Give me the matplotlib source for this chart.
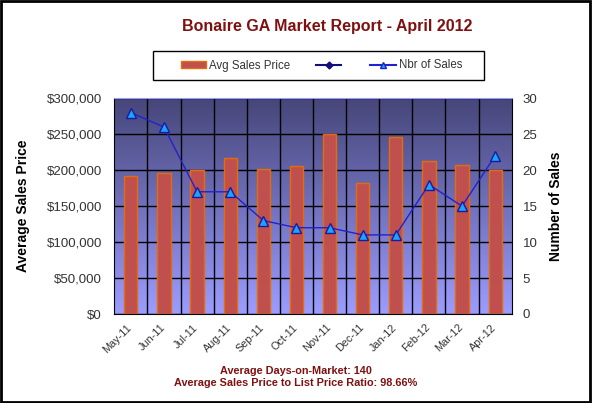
import numpy as np
import matplotlib
matplotlib.use("Agg")
import matplotlib.pyplot as plt
from matplotlib.colors import LinearSegmentedColormap
from matplotlib.lines import Line2D
from matplotlib.patches import Patch, Rectangle
from matplotlib.ticker import FuncFormatter
import matplotlib.transforms as mtrans

plt.rcParams["font.family"] = ["Liberation Sans", "DejaVu Sans"]

# data
months = ["May-11", "Jun-11", "Jul-11", "Aug-11", "Sep-11", "Oct-11",
          "Nov-11", "Dec-11", "Jan-12", "Feb-12", "Mar-12", "Apr-12"]
avg_price = [192000, 196000, 200000, 217000, 202000, 206000,
             250000, 182000, 246000, 213000, 207000, 200000]
nbr_sales = [28, 26, 17, 17, 13, 12, 12, 11, 11, 18, 15, 22]

title = "Bonaire GA Market Report - April 2012"
footer = ["Average Days-on-Market: 140",
          "Average Sales Price to List Price Ratio: 98.66%"]

DARK_RED = "#7f1010"
BAR = "#c0504d"
BAR_EDGE = "#e46c0a"
LINE = "#2222cc"
MARK = "#1aa3ff"

fig = plt.figure(figsize=(5.92, 4.03), dpi=100)
W, H = 592, 403
ax = fig.add_axes([114.3 / W, 1 - 314 / H, (511.7 - 114.3) / W, (314 - 98.3) / H])

x = np.arange(len(months))

# gradient background of the plot area (dark at top, light at bottom)
grad = LinearSegmentedColormap.from_list("bg", ["#46467a", "#9c9cff"])
ax.imshow(np.linspace(0, 1, 256).reshape(-1, 1), cmap=grad, aspect="auto",
          origin="upper", extent=[-0.5, len(months) - 0.5, 0, 300000], zorder=0)

ax.bar(x, avg_price, width=0.4, color=BAR, edgecolor=BAR_EDGE, linewidth=1, zorder=2)
ax.set_xlim(-0.5, len(months) - 0.5)
ax.set_ylim(0, 300000)
ax.set_yticks(np.arange(0, 300001, 50000))
ax.yaxis.set_major_formatter(FuncFormatter(lambda v, p: "${:,.0f}".format(v)))
ax.set_xticks(x)
ax.set_xticklabels(months, rotation=45, ha="right", fontsize=7.8, color="#333333")
ax.set_xticks(x[:-1] + 0.5, minor=True)
ax.grid(True, axis="y", which="major", color="black", linewidth=1, zorder=1)
ax.grid(True, axis="x", which="minor", color="black", linewidth=1, zorder=1)
ax.tick_params(axis="both", which="both", length=0)
ax.tick_params(axis="y", labelsize=9.5, pad=9, labelcolor="#333333")
ax.tick_params(axis="x", pad=6)
offset = mtrans.ScaledTranslation(3 / 100, 0, fig.dpi_scale_trans)
for lab in ax.get_xticklabels():
    lab.set_transform(lab.get_transform() + offset)
for s in ["left", "bottom", "right"]:
    ax.spines[s].set_color("black")
ax.spines["top"].set_color("#9c9cff")
ax.set_ylabel("Average Sales Price", fontsize=10, fontweight="bold", labelpad=12)

ax2 = ax.twinx()
ax2.plot(x, nbr_sales, color=LINE, linewidth=1, marker="^", markersize=7,
         markerfacecolor=MARK, markeredgecolor="#1a1aa0", markeredgewidth=1, zorder=3)
ax2.set_ylim(0, 30)
ax2.set_yticks(np.arange(0, 31, 5))
ax2.tick_params(axis="y", length=0, labelsize=9.5, pad=8, labelcolor="#333333")
for s in ax2.spines.values():
    s.set_visible(False)
ax2.set_ylabel("Number of Sales", fontsize=10, fontweight="bold", labelpad=8)

fig.text(0.553, 1 - 26 / H, title, ha="center", va="center", fontsize=11.5,
         fontweight="bold", color=DARK_RED)

handles = [Patch(facecolor=BAR, edgecolor=BAR_EDGE),
           Line2D([], [], color="#10107a", marker="D", markersize=3.5),
           Line2D([], [], color=LINE, marker="^", markersize=4,
                  markerfacecolor=MARK, markeredgecolor=LINE)]
leg = fig.legend(handles, ["Avg Sales Price", "", "Nbr of Sales"], ncol=3,
                 loc="center", bbox_to_anchor=(321.5 / W, 1 - 65.5 / H),
                 fontsize=8.3, frameon=False, handlelength=2.2, handleheight=0.6,
                 columnspacing=2.2, handletextpad=0.3)
for t in leg.get_texts():
    t.set_color("#333333")
fig.patches.append(Rectangle((153 / W, 1 - 80 / H), (484 - 153) / W, 29 / H,
                             transform=fig.transFigure, fill=False,
                             edgecolor="black", linewidth=1))

fig.text(0.5, 1 - 371 / H, footer[0], ha="center", va="center", fontsize=7.8,
         fontweight="bold", color=DARK_RED)
fig.text(0.5, 1 - 383 / H, footer[1], ha="center", va="center", fontsize=7.8,
         fontweight="bold", color=DARK_RED)

fig.patches.append(Rectangle((0.002, 0.003), 0.995, 0.994, transform=fig.transFigure,
                             fill=False, edgecolor="black", linewidth=2))

fig.savefig("out.png", dpi=100)
